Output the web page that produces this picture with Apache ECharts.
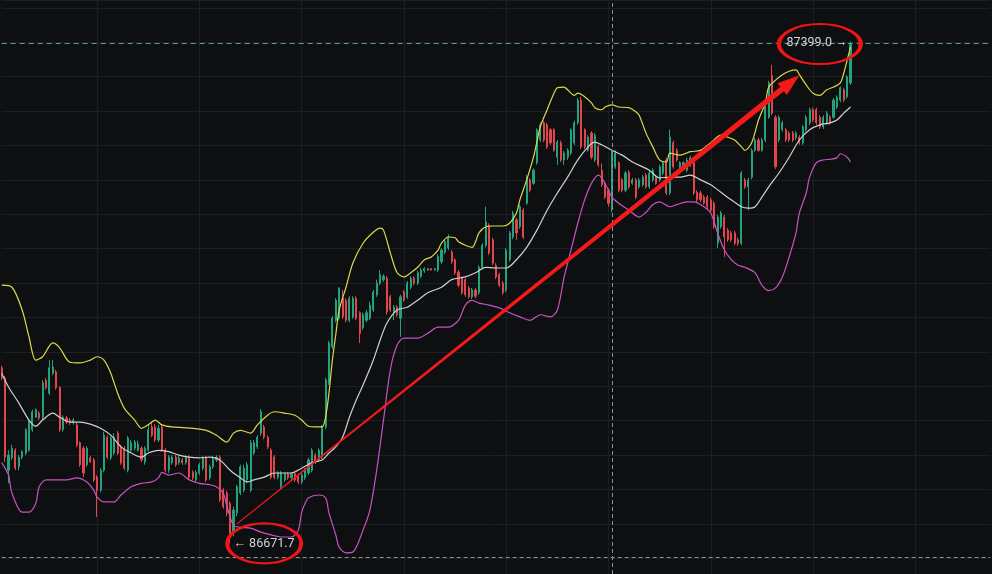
<!DOCTYPE html>
<html><head><meta charset="utf-8">
<script src="https://cdn.jsdelivr.net/npm/echarts@6/dist/echarts.min.js"></script>
<style>html,body{margin:0;padding:0;background:#0e0f11;}#c{width:992px;height:574px;}</style>
</head><body><div id="c"></div>
<script>
const opens = [
86927,86912,86778,86796,86807,86783,86797,86803,86807,86837,
86855,86861,86855,86909,86890,86919,86921,86898,86837,86854,
86851,86847,86844,86818,86810,86786,86796,86793,86768,86749,
86778,86826,86796,86803,86832,86812,86810,86778,86807,86810,
86807,86810,86790,86807,86841,86841,86822,86841,86807,86778,
86789,86797,86789,86793,86789,86797,86775,86764,86774,86781,
86796,86767,86783,86793,86797,86749,86745,86730,86687,86716,
86745,86749,86764,86749,86803,86812,86832,86841,86826,86807,
86797,86768,86754,86764,86773,86767,86773,86770,86761,86767,
86774,86778,86800,86793,86797,86841,86905,86957,86996,86999,
87028,87025,86996,87001,87028,87007,86985,86996,86999,87011,
87033,87050,87055,87057,87030,87007,87015,86999,87037,87030,
87044,87057,87050,87060,87068,87069,87071,87069,87069,87081,
87095,87101,87095,87084,87066,87057,87055,87043,87030,87040,
87036,87073,87105,87134,87113,87076,87062,87050,87040,87084,
87117,87142,87132,87156,87166,87200,87195,87225,87258,87283,
87280,87273,87273,87233,87254,87229,87233,87239,87254,87283,
87316,87273,87243,87268,87229,87248,87214,87195,87185,87161,
87219,87225,87200,87185,87211,87195,87200,87190,87193,87207,
87190,87200,87204,87200,87210,87229,87181,87254,87243,87211,
87217,87214,87222,87225,87182,87181,87175,87175,87171,87166,
87108,87132,87146,87127,87123,87123,87113,87108,87200,87190,
87204,87243,87258,87243,87258,87291,87352,87291,87258,87273,
87273,87268,87268,87261,87262,87254,87273,87283,87302,87302,
87291,87277,87283,87291,87291,87306,87316,87331,87321,87341];
const closes = [
86912,86797,86800,86810,86781,86797,86805,86837,86848,86863,
86866,86854,86905,86898,86927,86928,86898,86837,86855,86848,
86847,86851,86815,86786,86774,86810,86790,86764,86749,86778,
86829,86797,86825,86826,86803,86789,86781,86825,86818,86819,
86816,86793,86810,86837,86829,86822,86839,86807,86778,86797,
86797,86786,86796,86789,86797,86768,86767,86775,86786,86796,
86764,86783,86794,86797,86735,86725,86716,86682,86720,86754,
86783,86781,86786,86818,86818,86826,86863,86826,86812,86768,
86768,86774,86774,86773,86767,86773,86764,86761,86771,86778,
86793,86807,86790,86807,86841,86909,86963,86999,87025,87043,
87001,86996,87028,87028,86999,86977,87004,87007,87018,87037,
87050,87062,87060,87008,87011,87015,87004,87030,87025,87050,
87057,87050,87065,87069,87071,87071,87069,87071,87089,87098,
87110,87117,87081,87065,87047,87036,87033,87030,87040,87031,
87073,87105,87139,87094,87079,87059,87047,87036,87098,87123,
87152,87123,87161,87117,87204,87185,87214,87273,87280,87258,
87248,87254,87243,87255,87229,87239,87243,87273,87283,87316,
87248,87248,87262,87233,87265,87222,87193,87175,87166,87239,
87239,87185,87185,87210,87190,87200,87175,87200,87204,87190,
87210,87214,87195,87219,87225,87181,87262,87219,87229,87225,
87225,87229,87232,87181,87171,87171,87166,87161,87156,87132,
87146,87152,87117,87113,87113,87108,87108,87210,87190,87200,
87243,87258,87243,87258,87306,87341,87297,87219,87291,87283,
87258,87258,87258,87268,87254,87277,87291,87302,87287,87283,
87277,87291,87297,87283,87316,87320,87334,87316,87350,87399.0];
const lows = [
86909,86790,86759,86793,86778,86778,86794,86800,86805,86834,
86854,86851,86851,86895,86887,86916,86895,86834,86834,86845,
86844,86844,86812,86783,86768,86783,86789,86761,86710,86746,
86775,86794,86793,86800,86800,86786,86778,86775,86805,86807,
86805,86790,86786,86805,86826,86819,86819,86805,86775,86774,
86786,86783,86786,86786,86786,86764,86764,86761,86771,86778,
86761,86764,86780,86790,86732,86722,86711,86671.7,86682,86711,
86742,86746,86759,86746,86800,86809,86828,86823,86809,86765,
86765,86765,86751,86761,86764,86764,86761,86758,86758,86764,
86771,86775,86787,86790,86794,86838,86902,86954,86993,86996,
86998,86993,86993,86998,86996,86963,86982,86993,86996,87008,
87030,87047,87052,87004,87008,86996,87001,86972,87023,87027,
87041,87047,87047,87057,87065,87068,87068,87068,87066,87078,
87092,87098,87078,87062,87044,87033,87030,87027,87027,87028,
87033,87070,87102,87091,87076,87056,87044,87033,87037,87081,
87114,87113,87129,87114,87164,87182,87193,87222,87255,87255,
87245,87251,87241,87222,87226,87222,87229,87236,87251,87280,
87245,87245,87241,87230,87226,87219,87190,87172,87161,87153,
87216,87182,87182,87182,87187,87193,87172,87187,87190,87187,
87187,87197,87193,87197,87207,87178,87178,87216,87226,87209,
87214,87211,87219,87178,87168,87168,87164,87156,87153,87129,
87101,87129,87088,87110,87110,87105,87104,87105,87187,87156,
87201,87241,87241,87241,87255,87289,87294,87216,87255,87270,
87255,87255,87255,87258,87251,87251,87270,87280,87284,87280,
87274,87274,87280,87280,87289,87303,87313,87313,87318,87338];
const highs = [
86930,86915,86807,86815,86810,86800,86807,86839,86851,86866,
86868,86864,86909,86912,86938,86938,86924,86900,86858,86857,
86854,86854,86847,86820,86813,86813,86799,86796,86771,86781,
86834,86829,86828,86832,86835,86815,86813,86828,86822,86822,
86821,86813,86813,86844,86848,86845,86844,86844,86810,86800,
86800,86800,86799,86796,86800,86800,86778,86778,86789,86799,
86799,86786,86799,86800,86800,86752,86748,86733,86725,86757,
86786,86786,86790,86822,86822,86829,86867,86844,86829,86810,
86800,86777,86777,86775,86775,86775,86775,86773,86774,86781,
86796,86810,86803,86810,86844,86912,86966,87002,87028,87044,
87040,87028,87031,87031,87031,87009,87007,87011,87023,87040,
87055,87069,87063,87060,87033,87018,87018,87033,87040,87053,
87060,87060,87068,87072,87073,87072,87072,87072,87092,87101,
87113,87121,87098,87086,87069,87060,87057,87046,87043,87043,
87076,87108,87161,87137,87116,87079,87065,87053,87101,87126,
87155,87145,87164,87159,87207,87203,87217,87275,87284,87286,
87283,87275,87275,87258,87257,87242,87246,87275,87286,87319,
87321,87275,87265,87271,87268,87251,87224,87198,87188,87242,
87243,87227,87203,87213,87214,87203,87203,87203,87207,87210,
87213,87217,87207,87222,87227,87232,87273,87257,87246,87227,
87227,87232,87235,87227,87185,87184,87178,87178,87174,87169,
87149,87155,87149,87130,87126,87126,87116,87213,87203,87203,
87246,87261,87261,87261,87309,87344,87367,87294,87294,87286,
87275,87271,87271,87271,87265,87280,87294,87305,87305,87305,
87294,87294,87300,87294,87319,87323,87336,87334,87352,87401];

const upperBand = [[0,87047],[3,87044],[6,87011],[8,86972],[10,86938],[12,86943],[15,86963],[17,86956],[20,86935],[23,86934],[26,86938],[28,86943],[30,86938],[32,86919],[34,86890],[36,86868],[39,86851],[41,86839],[43,86844],[45,86851],[47,86844],[50,86841],[56,86839],[60,86836],[63,86829],[66,86819],[68,86832],[70,86836],[73,86832],[75,86844],[78,86858],[80,86863],[83,86861],[86,86858],[88,86851],[90,86842],[92,86841],[94,86841],[95,86855],[96,86890],[97,86938],[98,86975],[99,87011],[101,87044],[103,87079],[106,87108],[109,87124],[111,87130],[112,87127],[114,87094],[116,87065],[118,87059],[120,87065],[122,87073],[124,87084],[126,87088],[128,87098],[129,87108],[131,87117],[133,87116],[134,87110],[136,87105],[138,87102],[139,87110],[140,87123],[142,87132],[144,87133],[147,87133],[149,87137],[151,87152],[152,87171],[154,87200],[156,87233],[158,87277],[160,87302],[162,87326],[163,87334],[165,87335],[166,87331],[168,87323],[169,87326],[171,87321],[173,87312],[174,87305],[176,87302],[177,87306],[179,87309],[181,87306],[184,87305],[186,87299],[187,87294],[189,87268],[191,87248],[193,87229],[195,87226],[196,87239],[199,87236],[202,87241],[205,87243],[208,87254],[211,87265],[213,87262],[215,87258],[217,87248],[218,87243],[220,87254],[222,87287],[224,87312],[225,87335],[227,87345],[229,87353],[231,87358],[233,87360],[234,87353],[236,87338],[238,87326],[240,87323],[242,87331],[244,87335],[246,87341],[247,87355],[248,87374],[249,87393]];
const middleBand = [[0,86919],[2,86899],[5,86876],[8,86851],[10,86842],[12,86851],[15,86861],[17,86855],[20,86848],[23,86848],[26,86845],[29,86839],[32,86829],[35,86812],[38,86803],[41,86797],[43,86803],[46,86807],[49,86805],[52,86800],[55,86797],[58,86796],[61,86797],[64,86793],[67,86778],[70,86767],[72,86761],[74,86764],[77,86768],[80,86774],[83,86774],[85,86774],[88,86781],[91,86789],[94,86793],[96,86803],[98,86812],[100,86826],[102,86855],[104,86880],[106,86902],[109,86938],[111,86967],[113,86992],[116,87011],[119,87015],[122,87025],[125,87036],[129,87044],[132,87055],[136,87059],[139,87065],[142,87073],[145,87072],[148,87072],[151,87084],[154,87102],[157,87127],[160,87156],[163,87181],[166,87204],[169,87229],[172,87248],[174,87255],[176,87251],[179,87243],[182,87236],[185,87226],[188,87219],[190,87214],[193,87203],[196,87204],[199,87204],[202,87207],[205,87200],[208,87193],[211,87182],[214,87171],[217,87161],[219,87159],[221,87161],[223,87175],[225,87190],[228,87210],[231,87233],[234,87258],[237,87273],[240,87280],[243,87283],[245,87287],[247,87297],[249,87306]];
const lowerBand = [[0,86789],[2,86771],[3,86745],[6,86717],[8,86717],[10,86730],[11,86754],[13,86764],[16,86764],[19,86764],[22,86767],[25,86761],[27,86749],[28,86739],[30,86732],[33,86732],[35,86742],[38,86754],[41,86759],[44,86761],[46,86767],[47,86775],[49,86771],[52,86774],[55,86764],[58,86759],[61,86757],[63,86754],[65,86745],[66,86727],[68,86698],[70,86695],[73,86694],[76,86688],[79,86684],[82,86681],[85,86681],[87,86691],[88,86717],[89,86730],[90,86738],[93,86742],[95,86738],[96,86716],[98,86684],[99,86666],[101,86658],[103,86659],[106,86691],[108,86720],[110,86778],[112,86851],[114,86924],[116,86960],[118,86970],[122,86970],[125,86977],[128,86986],[131,86986],[134,86996],[136,87018],[138,87025],[140,87021],[143,87018],[146,87014],[149,87007],[152,87001],[155,86996],[158,87004],[161,87001],[163,87011],[165,87059],[167,87098],[169,87137],[171,87171],[173,87195],[175,87207],[176,87203],[178,87185],[179,87175],[181,87166],[184,87156],[187,87146],[189,87153],[191,87164],[193,87168],[196,87161],[198,87164],[201,87168],[203,87168],[206,87161],[208,87152],[210,87123],[212,87098],[214,87084],[216,87076],[218,87073],[221,87065],[223,87047],[225,87039],[227,87043],[229,87059],[231,87088],[233,87123],[234,87152],[236,87181],[237,87204],[239,87225],[241,87229],[243,87230],[245,87232],[246,87238],[248,87233],[249,87226]];

const lowPrice = 86671.7;
const lastPrice = 87399.0;
const crossIndex = 179;
const crossPrice = 86652;
const arrowLine = [69, 86700, 234, 87352];
const lowLabel = '← 86671.7';
const lastLabel = '87399.0 →';
const yMin = 86627.2, yMax = 87461.5;

const N = 291;
const cats = Array.from({length: N}, (_, i) => String(i));
const candles = opens.map((o, i) => [o, closes[i], lows[i], highs[i]]);

const GRID = '#1c1e22';
const UP = '#22a37e', DOWN = '#e0464b';
const chart = echarts.init(document.getElementById('c'), null, {renderer: 'canvas'});
chart.setOption({
  backgroundColor: '#0e0f11',
  animation: false,
  grid: {left: 1.7, right: 1.7, top: 0, bottom: 0},
  xAxis: {
    type: 'category', data: cats, boundaryGap: false,
    axisLine: {show: false}, axisTick: {show: false}, axisLabel: {show: false},
    splitLine: {show: true, interval: (i) => i % 30 === 28, lineStyle: {color: GRID, width: 1}}
  },
  yAxis: {
    type: 'value', min: yMin, max: yMax, splitNumber: 17,
    axisLine: {show: false}, axisTick: {show: false}, axisLabel: {show: false},
    splitLine: {show: true, lineStyle: {color: GRID, width: 1}}
  },
  series: [
    {
      type: 'candlestick', data: candles, barWidth: 1.6,
      itemStyle: {color: UP, color0: DOWN, borderColor: UP, borderColor0: DOWN, borderWidth: 1},
      markLine: {
        silent: true, symbol: ['none', 'none'], label: {show: false}, animation: false,
        data: [
          {yAxis: lastPrice, lineStyle: {color: '#4fa59a', type: [5, 4], width: 1, opacity: 1}},
          {yAxis: crossPrice, lineStyle: {color: '#8d9096', type: [4, 3], width: 1, opacity: 1}},
          {xAxis: String(crossIndex), lineStyle: {color: '#8d9096', type: [4, 3], width: 1, opacity: 1}}
        ]
      }
    },
    {type: 'line', data: upperBand, smooth: 0.3, showSymbol: false, lineStyle: {color: '#dcd84a', width: 1.2}},
    {type: 'line', data: middleBand, smooth: 0.3, showSymbol: false, lineStyle: {color: '#cfd0d2', width: 1.2}},
    {type: 'line', data: lowerBand, smooth: 0.3, showSymbol: false, lineStyle: {color: '#c952c1', width: 1.2}},
    {
      type: 'custom', data: [arrowLine], encode: {x: [0, 2], y: [1, 3]}, z: 10,
      renderItem: (params, api) => {
        const p0 = api.coord([api.value(0), api.value(1)]);
        const p1 = api.coord([api.value(2), api.value(3)]);
        const dx = p1[0] - p0[0], dy = p1[1] - p0[1];
        const len = Math.hypot(dx, dy);
        const ux = dx / len, uy = dy / len, nx = -uy, ny = ux;
        const headLen = 22, headW = 7.5, w0 = 0.5, w1 = 2.8;
        const bx = p1[0] - ux * headLen, by = p1[1] - uy * headLen;
        const pts = [
          [p0[0] + nx * w0, p0[1] + ny * w0], [bx + nx * w1, by + ny * w1],
          [bx + nx * headW, by + ny * headW], [p1[0], p1[1]],
          [bx - nx * headW, by - ny * headW], [bx - nx * w1, by - ny * w1],
          [p0[0] - nx * w0, p0[1] - ny * w0]
        ];
        return {type: 'polygon', shape: {points: pts}, style: {fill: '#f41a1a'}};
      }
    },
    {
      type: 'scatter', z: 11, symbol: 'circle', silent: true,
      itemStyle: {color: 'rgba(0,0,0,0)', borderColor: '#f01418', borderWidth: 3, opacity: 1},
      data: [
        {value: [77, lowPrice], symbolSize: [74, 40]},
        {value: [240, 87397.5], symbolSize: [82, 40]}
      ]
    },
    {
      type: 'scatter', z: 12, symbolSize: 0, silent: true,
      itemStyle: {opacity: 1},
      label: {show: true, color: '#d2d5d8', fontFamily: 'Roboto', fontSize: 12.5},
      data: [
        {value: [68, lowPrice], label: {position: 'right', distance: 0, formatter: lowLabel}},
        {value: [249, lastPrice], label: {position: 'left', distance: 3, formatter: lastLabel}}
      ]
    }
  ]
});
</script>
</body></html>
